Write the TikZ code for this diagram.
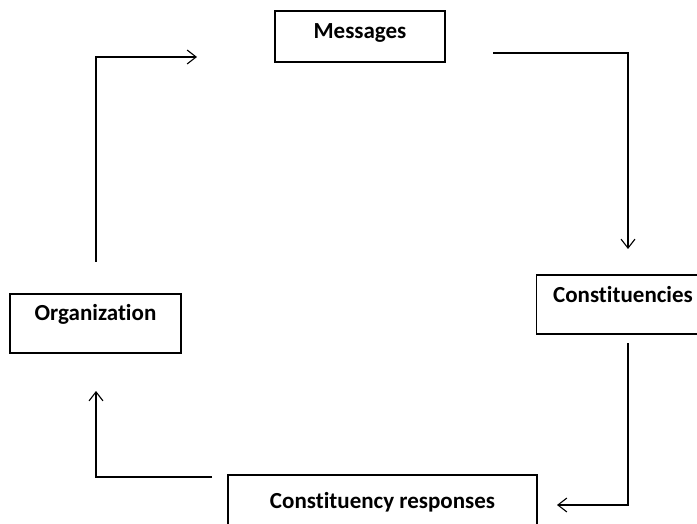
\documentclass[tikz,border=0pt]{standalone}
\usepackage{fontspec}
\setmainfont{Carlito}[Ligatures=CommonOff]
\usetikzlibrary{arrows.meta}
\tikzset{
  box/.style={draw, line width=1.1pt, inner xsep=0pt, inner ysep=0pt, anchor=base,
    font=\fontsize{23}{27}\selectfont\bfseries},
  conn/.style={line width=1.1pt, -{Straight Barb[length=9pt,width=14pt,line width=1.1pt]}}
}
\begin{document}
\begin{tikzpicture}[x=1pt,y=-1pt]
\useasboundingbox (0,0) rectangle (697,524);
\node[box, text height=28pt, text depth=23pt, minimum width=170pt] (msg) at (360,39) {Messages};
\node[box, text height=27pt, text depth=32pt, minimum width=173pt] (con) at (623,302) {Constituencies};
\node[box, text height=33pt, text depth=30pt, minimum width=309pt] (resp) at (382.5,508) {Constituency responses};
\node[box, text height=26pt, text depth=33pt, minimum width=171pt] (org) at (95.5,320) {Organization};
\coordinate (a1s) at (96,262);
\coordinate (a1m) at (96,57);
\coordinate (a1e) at (197,57);
\coordinate (a2s) at (493,53);
\coordinate (a2m) at (628,53);
\coordinate (a2e) at (628,249);
\coordinate (a3s) at (628,343);
\coordinate (a3m) at (628,505);
\coordinate (a3e) at (557,505);
\coordinate (a4s) at (212,477);
\coordinate (a4m) at (96,477);
\coordinate (a4e) at (96,391);
\draw[conn] (a1s) -- (a1m) -- (a1e);
\draw[conn] (a2s) -- (a2m) -- (a2e);
\draw[conn] (a3s) -- (a3m) -- (a3e);
\draw[conn] (a4s) -- (a4m) -- (a4e);
\end{tikzpicture}
\end{document}
